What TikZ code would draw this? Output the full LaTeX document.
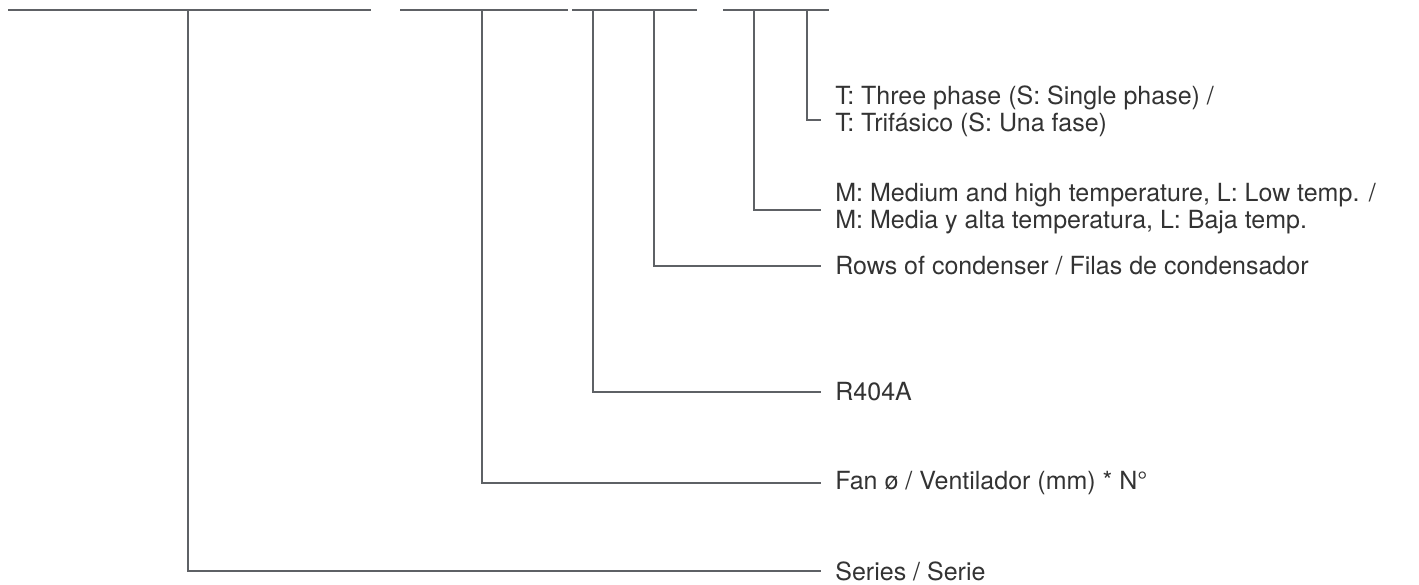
\documentclass[tikz,border=0pt]{standalone}
\usepackage{fontspec}
\setmainfont{TeX Gyre Heros}
\usetikzlibrary{positioning}
\definecolor{linegray}{HTML}{5E6165}
\definecolor{textgray}{HTML}{333333}

\begin{document}
\begin{tikzpicture}[
    x=0.5pt, y=-0.5pt,
    node distance=7pt,
    bar/.style={draw=linegray, line width=1.2pt},
    lead/.style={draw=linegray, line width=1.2pt},
    desc/.style={text=textgray, font=\fontsize{12.5}{13.5}\selectfont, align=left, inner sep=0pt}
]
\useasboundingbox (0,0) rectangle (1419,584);

% Code groups
\draw[bar] (8,10) -- (371,10);
\draw[bar] (400,10) -- (568,10);
\draw[bar] (572,10) -- (697,10);
\draw[bar] (723,10) -- (829,10);

% Tick points on the code
\coordinate (series) at (188,10);
\coordinate (fan) at (482,10);
\coordinate (gas) at (593,10);
\coordinate (rows) at (654,10);
\coordinate (temp) at (754,10);
\coordinate (phase) at (807,10);

% Lead ends
\coordinate (phaseend) at (821,120);
\coordinate (tempend) at (821,210);
\coordinate (rowsend) at (821,266);
\coordinate (gasend) at (821,392);
\coordinate (fanend) at (821,483);
\coordinate (seriesend) at (821,571);

% Labels
\node[desc, right=of phaseend, yshift=4.5pt] (phaselab) {T: Three phase (S: Single phase) /\\T: Trifásico (S: Una fase)};
\node[desc, right=of tempend, yshift=0.5pt] (templab) {M: Medium and high temperature, L: Low temp. /\\M: Media y alta temperatura, L: Baja temp.};
\node[desc, right=of rowsend] (rowslab) {Rows of condenser / Filas de condensador};
\node[desc, right=of gasend] (gaslab) {R404A};
\node[desc, right=of fanend] (fanlab) {Fan ø / Ventilador (mm) * N°};
\node[desc, right=of seriesend] (serieslab) {Series / Serie};

% Leads
\draw[lead] (phase) |- (phaseend);
\draw[lead] (temp) |- (tempend);
\draw[lead] (rows) |- (rowsend);
\draw[lead] (gas) |- (gasend);
\draw[lead] (fan) |- (fanend);
\draw[lead] (series) |- (seriesend);

\end{tikzpicture}
\end{document}
